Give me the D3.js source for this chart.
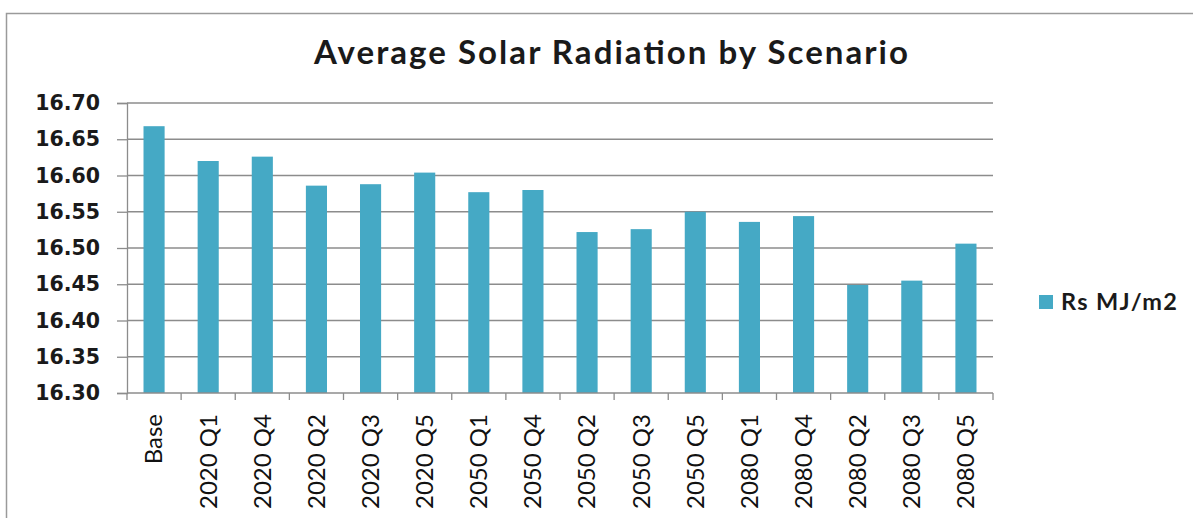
<!DOCTYPE html>
<html>
<head>
<meta charset="utf-8">
<script src="https://cdn.jsdelivr.net/npm/d3@7"></script>
<style>
  html, body { margin: 0; padding: 0; background: #fff; }
  svg { display: block; }
</style>
</head>
<body>
<script>
const categories = ["Base","2020 Q1","2020 Q4","2020 Q2","2020 Q3","2020 Q5","2050 Q1","2050 Q4","2050 Q2","2050 Q3","2050 Q5","2080 Q1","2080 Q4","2080 Q2","2080 Q3","2080 Q5"];
const values = [16.668,16.620,16.626,16.586,16.588,16.604,16.577,16.580,16.522,16.526,16.550,16.536,16.544,16.449,16.455,16.506];
const yTicks = [16.30,16.35,16.40,16.45,16.50,16.55,16.60,16.65,16.70];
const seriesName = "Rs MJ/m2";
const titleText = "Average Solar Radiation by Scenario";

const W = 1193, H = 518;
const plot = { left: 127, right: 993, top: 103, bottom: 393 };
const barColor = "#45A9C5";
const gridColor = "#8c8c8c";

const svg = d3.select("body").append("svg").attr("width", W).attr("height", H);

// outer frame
svg.append("rect").attr("x", 6.5).attr("y", 13.5).attr("width", W + 20).attr("height", H + 20)
  .attr("fill", "none").attr("stroke", "#9a9a9a").attr("stroke-width", 1.5);

const x = d3.scaleBand().domain(categories).range([plot.left, plot.right])
  .paddingInner(0.61).paddingOuter(0.305);
const y = d3.scaleLinear().domain([16.30, 16.70]).range([plot.bottom, plot.top]);

// gridlines
svg.append("g").selectAll("line").data(yTicks.slice(1)).join("line")
  .attr("x1", plot.left).attr("x2", plot.right)
  .attr("y1", d => y(d)).attr("y2", d => y(d))
  .attr("stroke", gridColor).attr("stroke-width", 1.3);

// y axis
const yAxis = svg.append("g").attr("transform", `translate(${plot.left},0)`)
  .call(d3.axisLeft(y).tickValues(yTicks).tickFormat(d3.format(".2f")).tickSize(10).tickPadding(17));
yAxis.select(".domain").attr("stroke", gridColor).attr("stroke-width", 1.3);
yAxis.selectAll(".tick line").attr("stroke", gridColor).attr("stroke-width", 1.3);
yAxis.selectAll(".tick text").attr("fill", "#1a1a1a")
  .style("font-family", "'DejaVu Sans', sans-serif").style("font-weight", "bold").style("font-size", "20.5px");

// bars
svg.append("g").selectAll("rect").data(categories).join("rect")
  .attr("x", d => x(d)).attr("width", x.bandwidth())
  .attr("y", (d, i) => y(values[i])).attr("height", (d, i) => y(16.30) - y(values[i]))
  .attr("fill", barColor);

// x axis
const xAxisG = svg.append("g").attr("transform", `translate(0,${plot.bottom})`);
xAxisG.append("line").attr("x1", plot.left).attr("x2", plot.right).attr("y1", 0).attr("y2", 0)
  .attr("stroke", gridColor).attr("stroke-width", 1.3);
const boundaries = d3.range(categories.length + 1).map(i => plot.left + i * (plot.right - plot.left) / categories.length);
xAxisG.selectAll("line.tk").data(boundaries).join("line").attr("class", "tk")
  .attr("x1", d => d).attr("x2", d => d).attr("y1", 0).attr("y2", 7)
  .attr("stroke", gridColor).attr("stroke-width", 1.3);
xAxisG.selectAll("text").data(categories).join("text")
  .attr("transform", d => `translate(${x(d) + x.bandwidth() / 2},21) rotate(-90)`)
  .attr("text-anchor", "end").attr("dy", "0.35em")
  .attr("fill", "#111")
  .style("font-family", "Lato, sans-serif").style("font-size", "24px")
  .text(d => d);

// title
svg.append("text").attr("x", 611).attr("y", 64).attr("text-anchor", "middle")
  .attr("fill", "#1a1a1a")
  .attr("textLength", 594).attr("lengthAdjust", "spacing")
  .style("font-family", "Lato, sans-serif").style("font-weight", "bold").style("font-size", "33px")
  .text(titleText);

// legend
const lg = svg.append("g");
lg.append("rect").attr("x", 1039).attr("y", 295).attr("width", 14).attr("height", 14).attr("fill", barColor);
lg.append("text").attr("x", 1061).attr("y", 302).attr("dy", "0.35em")
  .attr("fill", "#1a1a1a")
  .attr("textLength", 116).attr("lengthAdjust", "spacing")
  .style("font-family", "Lato, sans-serif").style("font-weight", "bold").style("font-size", "23.5px")
  .text(seriesName);
</script>
</body>
</html>
